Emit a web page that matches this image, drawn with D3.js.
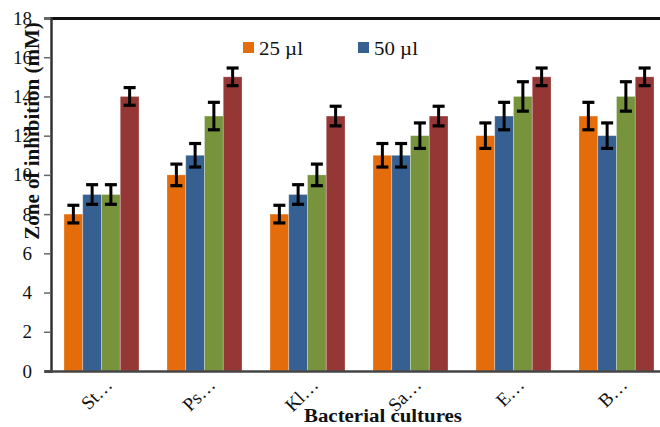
<!DOCTYPE html>
<html><head><meta charset="utf-8">
<script src="https://cdn.jsdelivr.net/npm/d3@7"></script>
<style>html,body{margin:0;padding:0;background:#fff;}svg{display:block;}</style>
</head><body>
<svg id="chart" width="660" height="427"></svg>
<script>
const categories = ["St\u2026", "Ps\u2026", "Kl\u2026", "Sa\u2026", "E\u2026", "B\u2026"];
const seriesNames = ["25 \u00b5l", "50 \u00b5l", "75 \u00b5l", "100 \u00b5l"];
const legendShown = ["25 \u00b5l", "50 \u00b5l"];
const s25  = [8, 10, 8, 11, 12, 13];
const s50  = [9, 11, 9, 11, 13, 12];
const s75  = [9, 13, 10, 12, 14, 14];
const s100 = [14, 15, 13, 13, 15, 15];
const e25  = [0.45, 0.55, 0.45, 0.6, 0.65, 0.7];
const e50  = [0.5, 0.6, 0.5, 0.6, 0.7, 0.65];
const e75  = [0.5, 0.7, 0.55, 0.65, 0.75, 0.75];
const e100 = [0.45, 0.45, 0.5, 0.5, 0.45, 0.45];
const yTicks = [0, 2, 4, 6, 8, 10, 12, 14, 16, 18];
const colors = ["#E46C0A", "#376092", "#77933C", "#953735"];

const values = [s25, s50, s75, s100];
const errors = [e25, e50, e75, e100];

const svg = d3.select("#chart");
const serif = "'Liberation Serif', 'Times New Roman', serif";

const x0 = d3.scaleBand().domain(categories).range([50, 668]).padding(0);
const x1 = d3.scaleBand().domain(seriesNames).range([14, 89]).padding(0);
const y = d3.scaleLinear().domain([0, 18]).range([371, 18]);

// bars
const groups = svg.append("g").selectAll("g").data(categories).join("g")
  .attr("transform", c => `translate(${x0(c)},0)`);

groups.each(function(c, ci) {
  const g = d3.select(this);
  seriesNames.forEach((s, si) => {
    const v = values[si][ci];
    g.append("rect")
      .attr("x", x1(s)).attr("width", x1.bandwidth())
      .attr("y", y(v)).attr("height", y(0) - y(v))
      .attr("fill", colors[si])
      .attr("stroke", "rgba(255,255,255,0.35)").attr("stroke-width", 0.8);
  });
  seriesNames.forEach((s, si) => {
    const v = values[si][ci], e = errors[si][ci];
    const cx = x1(s) + x1.bandwidth() / 2;
    g.append("line").attr("x1", cx).attr("x2", cx).attr("y1", y(v + e)).attr("y2", y(v - e))
      .attr("stroke", "#000").attr("stroke-width", 3);
    [v + e, v - e].forEach(t => {
      g.append("line").attr("x1", cx - 6).attr("x2", cx + 6).attr("y1", y(t)).attr("y2", y(t))
        .attr("stroke", "#000").attr("stroke-width", 3.2);
    });
  });
});

// top border
svg.append("line").attr("x1", 50).attr("x2", 660).attr("y1", 18.5).attr("y2", 18.5)
  .attr("stroke", "#111").attr("stroke-width", 3);

// y axis
const yAxis = d3.axisLeft(y).tickValues(yTicks).tickSize(7).tickPadding(12).tickFormat(d3.format("d"));
const ya = svg.append("g").attr("transform", "translate(51,0)").call(yAxis);
ya.select(".domain").attr("stroke", "#333").attr("stroke-width", 2.5);
ya.selectAll(".tick line").attr("stroke", "#666").attr("stroke-width", 1.5);
ya.selectAll(".tick text").attr("font-family", serif).attr("font-size", 19).attr("fill", "#111");

// x axis
const xAxis = d3.axisBottom(x0).tickSize(0).tickPadding(0);
const xa = svg.append("g").attr("transform", "translate(0,371)").call(xAxis);
xa.select(".domain").remove();
svg.append("line").attr("x1", 45).attr("x2", 660).attr("y1", 371.5).attr("y2", 371.5)
  .attr("stroke", "#444").attr("stroke-width", 2.5);
xa.selectAll(".tick text")
  .attr("font-family", serif).attr("font-size", 19).attr("fill", "#111")
  .attr("text-anchor", "end").attr("dy", 0)
  .attr("transform", "translate(12,15) rotate(-45)")
  .attr("x", 0).attr("y", 0);

// axis titles
svg.append("text").attr("x", 383).attr("y", 422)
  .attr("text-anchor", "middle").attr("font-family", serif).attr("font-weight", "bold")
  .attr("font-size", 19).attr("fill", "#111")
  .attr("transform", "translate(383,0) scale(1.1,1) translate(-383,0)")
  .text("Bacterial cultures");
svg.append("text")
  .attr("transform", "translate(39,131) rotate(-90)")
  .attr("text-anchor", "middle").attr("font-family", serif).attr("font-weight", "bold")
  .attr("font-size", 21).attr("fill", "#111")
  .text("Zone of inhibition (mM)");

// legend
const legX = [243, 358];
legendShown.forEach((s, i) => {
  const si = seriesNames.indexOf(s);
  svg.append("rect").attr("x", legX[i]).attr("y", 42).attr("width", 11).attr("height", 11)
    .attr("fill", colors[si]);
  svg.append("text").attr("x", legX[i] + 16).attr("y", 55)
    .attr("font-family", serif).attr("font-size", 19).attr("fill", "#111")
    .attr("transform", `translate(${legX[i] + 16},0) scale(1.1,1) translate(${-(legX[i] + 16)},0)`)
    .text(s);
});
</script>
</body></html>
